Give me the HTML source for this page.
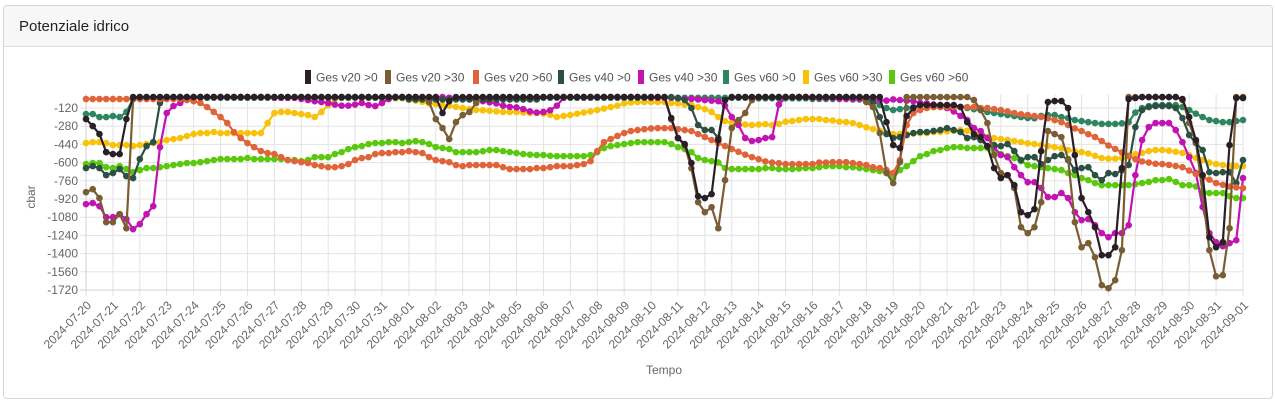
<!DOCTYPE html>
<html><head><meta charset="utf-8">
<style>
body{margin:0;background:#fff;font-family:"Liberation Sans",sans-serif;}
#card{position:absolute;left:3px;top:5px;width:1268px;height:392px;border:1px solid #d6d6d6;border-radius:4px;overflow:hidden;}
#hdr{height:40px;background:#f7f7f7;border-bottom:1px solid #dcdcdc;font-size:15px;color:#222;line-height:42px;padding-left:15px;}
</style></head><body>
<div id="card">
<div id="hdr">Potenziale idrico</div>
</div>
<svg id="chart" width="1275" height="403" style="position:absolute;left:0;top:0"></svg>
<script>
const seriesNames=["Ges v20 >0","Ges v20 >30","Ges v20 >60","Ges v40 >0","Ges v40 >30","Ges v60 >0","Ges v60 >30","Ges v60 >60"];
const seriesColors=["#2a1f26","#7b5d33","#e0643a","#2c5142","#c214b0","#2e8661","#f9c20a","#5ac90e"];
const yTicks=[-120,-280,-440,-600,-760,-920,-1080,-1240,-1400,-1560,-1720];
const dates=["2024-07-20","2024-07-21","2024-07-22","2024-07-23","2024-07-24","2024-07-25","2024-07-26","2024-07-27","2024-07-28","2024-07-29","2024-07-30","2024-07-31","2024-08-01","2024-08-02","2024-08-03","2024-08-04","2024-08-05","2024-08-06","2024-08-07","2024-08-08","2024-08-09","2024-08-10","2024-08-11","2024-08-12","2024-08-13","2024-08-14","2024-08-15","2024-08-16","2024-08-17","2024-08-18","2024-08-19","2024-08-20","2024-08-21","2024-08-22","2024-08-23","2024-08-24","2024-08-25","2024-08-26","2024-08-27","2024-08-28","2024-08-29","2024-08-30","2024-08-31","2024-09-01"];
// one row = one day (4 readings, every 6h)
const T=-24;
const TOP=[T,T,T,T];
const G4=[-45,-45,-45,-45];
const V30=[-30,-30,-30,-30];
const V35=[-35,-35,-35,-35];
const V40=[-40,-40,-40,-40];
const s1=[
-217,-279,-349,-508, -525,-525,-217,-24,
...TOP,...TOP,...TOP,...TOP,...TOP,...TOP,...TOP,...TOP,...TOP,...TOP,...TOP,
-24,-164,-60,-24,
...TOP,...TOP,...TOP,...TOP,...TOP,...TOP,...TOP,
-24,-24,-24,-208, -384,-437,-604,-895, -912,-877,-402,-50,
...TOP,...TOP,...TOP,...TOP,...TOP,
-24,-24,-24,-244, -446,-472,-191,-120, -94,-94,-94,-94, -94,-94,-110,-244,
-349,-376,-455,-648, -736,-710,-798,-1036, -1062,-1009,-499,-68, -59,-59,-120,-534,
-912,-1036,-1168,-1414, -1414,-1344,-648,-41, -32,-24,-24,-24, -24,-24,-24,-41,
-200,-402,-710,-1256, -1344,-1300,-446,-32, -32];
const s2=[
-860,-834,-912,-1124, -1124,-1053,-1177,-41,
...TOP,...TOP,...TOP,...TOP,...TOP,...TOP,...TOP,...TOP,...TOP,...TOP,
-24,-24,-24,-68, -217,-296,-393,-244, -182,-155,-76,-24,
...TOP,...TOP,...TOP,...TOP,...TOP,...TOP,
-24,-24,-24,-220, -384,-450,-650,-948, -1036,-992,-1177,-754, -296,-226,-164,-50,
...TOP,...TOP,...TOP,...TOP,
-68,-112,-340,-692, -780,-596,-24,-24,
...TOP,...TOP,
-50,-138,-252,-534, -692,-710,-824,-1168, -1220,-1168,-948,-323, -349,-376,-569,-1124,
-1344,-1308,-1432,-1678, -1704,-1634,-1370,-24,
...TOP,
-24,-24,-24,-50, -250,-420,-870,-1370, -1600,-1590,-1177,-24, -24];
const s3=[-41,-41,-41,-41,-41,-41,-41,-41,-41,-41,-41,-41,-41,-41,-41,-50,
-60,-76,-112,-155,-200,-252,-332,-384,-428,-464,-499,-516,-525,-552,-578,-587,
-596,-604,-622,-631,-640,-640,-631,-613,-578,-560,-552,-525,-516,-516,-508,-508,
-499,-508,-516,-552,-578,-587,-596,-622,-631,-622,-622,-622,-622,-622,-640,-657,
-657,-657,-657,-648,-648,-640,-631,-631,-631,-622,-613,-587,-499,-420,-393,-366,
-340,-323,-314,-306,-300,-297,-297,-297,-306,-314,-323,-349,-375,-402,-428,-455,
-481,-505,-530,-552,-570,-590,-600,-605,-613,-613,-613,-613,-613,-600,-600,-596,
-596,-596,-604,-613,-622,-640,-648,-666,-692,-578,-270,-164,-138,-120,-112,-112,
-112,-112,-112,-112,-112,-120,-120,-130,-138,-150,-164,-175,-182,-190,-200,-210,
-226,-244,-270,-300,-323,-350,-375,-410,-450,-480,-510,-540,-570,-590,-600,-610,
-613,-620,-630,-640,-670,-700,-730,-750,-780,-795,-810,-818,-825];
const s4=[
-648,-631,-648,-710, -692,-657,-719,-736, -569,-455,-420,-76,
...TOP,...TOP,...TOP,...TOP,...TOP,...TOP,...TOP,...TOP,...TOP,
...G4,...G4,...G4,...G4,...G4,
...TOP,...TOP,...TOP,...TOP,...TOP,
-32,-50,-120,-270, -314,-314,-384,-50,
...TOP,...TOP,...TOP,...TOP,...TOP,
-50,-70,-200,-349, -384,-376,-358,-340, -331,-331,-322,-314, -297,-314,-331,-384,
-376,-402,-455,-446, -455,-437,-499,-578, -552,-552,-613,-578, -543,-534,-578,-666,
-648,-640,-710,-754, -692,-701,-666,-622, -288,-138,-112,-103, -103,-103,-120,-208,
-358,-428,-490,-684, -692,-684,-684,-780, -578];
const s5=[
-965,-956,-983,-1080, -1080,-1053,-1097,-1185, -1141,-1053,-983,-464, -164,-103,-76,-41,
...TOP,...TOP,...TOP,
...V30,
-40,-50,-60,-68, -76,-90,-100,-100, -90,-76,-94,-103, -76,-41,-24,-24,
...TOP,
-24,-24,-30,-35, -40,-45,-50,-60, -70,-80,-100,-110, -115,-130,-150,-160, -155,-140,-100,-30,
...TOP,...TOP,...TOP,
...V30,
-35,-40,-40,-45, -50,-55,-60,-100, -200,-270,-384,-410, -402,-384,-376,-90,
...TOP,
...V30,...V40,
-45,-50,-50,-55, -45,-50,-55,-60, -75,-80,-90,-100, -120,-150,-190,-226,
-296,-323,-384,-464, -534,-552,-640,-710, -772,-772,-824,-903, -903,-868,-912,-1036,
-1106,-1097,-1150,-1220, -1256,-1220,-1220,-1150, -710,-402,-288,-252, -252,-252,-314,-420,
-552,-692,-990,-1220, -1300,-1335,-1308,-1282, -736];
const s6=[
-173,-173,-200,-200, -191,-200,-155,-41,
...V30,...V30,...V30,...V30,...V30,...V30,...V30,...V30,...V30,...V30,...V30,...V30,
...V30,...V30,...V30,...V30,...V30,...V30,...V30,...V30,...V30,...V30,...V30,
...V35,...V35,...V40,
-40,-40,-45,-45, -50,-60,-94,-120, -138,-130,-120,-112, -100,-94,-94,-94, -94,-100,-112,-120,
-130,-138,-155,-164, -173,-182,-191,-200, -208,-210,-190,-182, -182,-200,-208,-226,
-235,-244,-252,-260, -260,-260,-255,-244, -160,-120,-103,-94, -94,-94,-94,-112,
-138,-170,-200,-226, -235,-244,-244,-235, -226];
const s7=[-428,-420,-420,-428,-446,-446,-446,-455,-446,-437,-428,-420,-402,-393,-384,-367,
-349,-340,-340,-331,-340,-340,-340,-340,-340,-340,-340,-252,-164,-155,-155,-164,
-173,-182,-200,-155,-94,-41,-30,-30,-30,-30,-30,-30,-35,-35,-35,-35,
-45,-55,-65,-80,-85,-94,-100,-110,-120,-130,-138,-140,-145,-150,-155,-155,
-155,-160,-164,-164,-170,-180,-200,-190,-182,-170,-160,-150,-138,-125,-112,-100,
-80,-72,-68,-68,-68,-68,-68,-76,-80,-90,-94,-112,-130,-155,-200,-235,
-252,-260,-265,-270,-265,-262,-270,-260,-240,-235,-226,-217,-217,-217,-226,-230,
-240,-244,-252,-270,-290,-305,-320,-340,-349,-349,-349,-345,-340,-340,-331,-331,
-325,-320,-314,-320,-340,-360,-376,-384,-393,-400,-410,-420,-430,-437,-446,-455,
-464,-475,-490,-500,-508,-520,-540,-560,-565,-565,-560,-545,-525,-515,-499,-490,
-490,-495,-505,-515,-534,-560,-578,-600,-613,-622,-630,-631,-631];
const s8=[-613,-604,-604,-640,-648,-631,-657,-684,-666,-648,-648,-640,-631,-622,-613,-604,
-604,-596,-587,-578,-569,-569,-569,-569,-560,-569,-569,-569,-569,-569,-578,-578,
-587,-578,-552,-552,-552,-525,-508,-481,-464,-455,-437,-428,-428,-420,-420,-428,
-420,-411,-420,-437,-464,-472,-481,-508,-508,-508,-508,-500,-490,-490,-499,-508,
-516,-525,-530,-534,-534,-540,-543,-543,-543,-543,-543,-534,-508,-472,-455,-446,
-437,-428,-420,-420,-420,-420,-420,-437,-464,-481,-508,-560,-578,-587,-600,-648,
-657,-657,-657,-657,-657,-648,-648,-657,-657,-657,-652,-648,-648,-640,-631,-631,
-631,-640,-640,-648,-657,-666,-675,-684,-736,-666,-631,-587,-543,-525,-499,-490,
-472,-464,-464,-472,-472,-472,-472,-499,-525,-543,-560,-587,-622,-631,-640,-648,
-657,-666,-692,-710,-736,-754,-780,-798,-798,-798,-798,-798,-790,-780,-770,-754,
-754,-745,-770,-798,-798,-810,-850,-868,-868,-868,-895,-912,-912];
const allSeries=[s1,s2,s3,s4,s5,s6,s7,s8];

const NS="http://www.w3.org/2000/svg";
const svg=document.getElementById('chart');
const X0=86,X1=1243,PT=94,PB=290;
const PER_DAY=4;
function xDate(d){return X0+d*(X1-X0)/(dates.length-1);}
function xPt(i){return xDate(i/PER_DAY);}
function yVal(v){return 108+(-120-v)*18.2/160;}
function mk(tag,attrs,parent){const e=document.createElementNS(NS,tag);for(const k in attrs)e.setAttribute(k,attrs[k]);(parent||svg).appendChild(e);return e;}

const grid=mk('g',{});


yTicks.forEach(t=>{
  const y=yVal(t);
  const l=mk('line',{x1:80,x2:X1,y1:y,y2:y,stroke:'#e3e3e3','stroke-width':1},grid);
  
  
  const tx=mk('text',{x:78,y:y+4,'text-anchor':'end','font-size':12,fill:'#666','font-family':'Liberation Sans, sans-serif'});
  tx.textContent=t;
  
  
});
dates.forEach((d,i)=>{
  const x=xDate(i);
  const l=mk('line',{x1:x,x2:x,y1:PT,y2:PB+6,stroke:'#e3e3e3','stroke-width':1},grid);
  
  
  const lx=x+6,ly=PB+16;
  const tx=mk('text',{x:lx,y:ly,'text-anchor':'end','font-size':12,fill:'#666','font-family':'Liberation Sans, sans-serif',transform:`rotate(-45 ${lx} ${ly})`});
  tx.textContent=d;
  
  
});
const ax=mk('line',{x1:80,x2:X1,y1:PB,y2:PB,stroke:'#cfcfcf','stroke-width':1});


const ay=mk('line',{x1:X0,x2:X0,y1:PT,y2:PB,stroke:'#cfcfcf','stroke-width':1});



const yt=mk('text',{x:35,y:197,'text-anchor':'middle','font-size':12,fill:'#666','font-family':'Liberation Sans, sans-serif',transform:'rotate(-90 35 197)'});
yt.textContent='cbar';


const xt=mk('text',{x:664,y:374,'text-anchor':'middle','font-size':12,fill:'#666','font-family':'Liberation Sans, sans-serif'});
xt.textContent='Tempo';



for(let s=allSeries.length-1;s>=0;s--){
  const data=allSeries[s],c=seriesColors[s];
  const g=mk('g',{});
  
  
  const pts=data.map((v,i)=>xPt(i).toFixed(1)+','+yVal(v).toFixed(1)).join(' ');
  const pl=mk('polyline',{points:pts,fill:'none',stroke:c,'stroke-width':2.2,'stroke-linejoin':'round'},g);
  
  
  data.forEach((v,i)=>{
    const ci=mk('circle',{cx:xPt(i),cy:yVal(v),r:3.3,fill:c},g);
    
    
  });
}

const legX=[305,385,473,558,638,723,803,889];
seriesNames.forEach((nm,i)=>{
  const g=mk('g',{});
  
  
  mk('rect',{x:legX[i],y:70,width:6,height:14,fill:seriesColors[i]},g);
  const t=mk('text',{x:legX[i]+11,y:81.5,'font-size':12,fill:'#555','font-family':'Liberation Sans, sans-serif'},g);
  t.textContent=nm;
});
</script>
</body></html>
